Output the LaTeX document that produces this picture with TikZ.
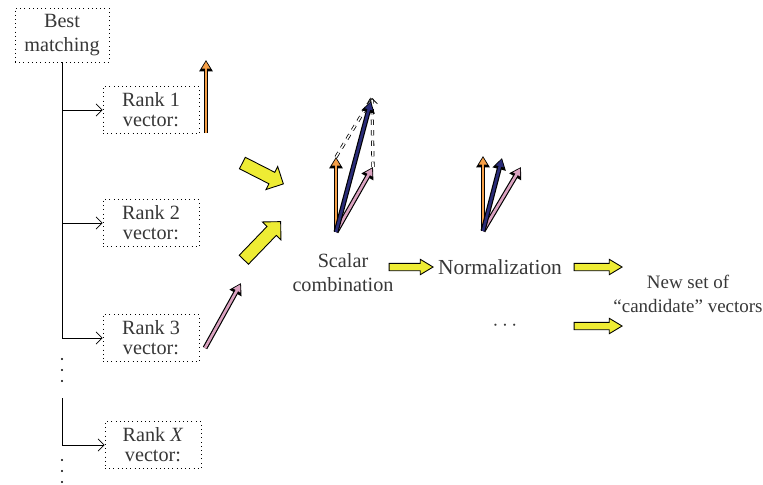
\documentclass[tikz,border=0pt]{standalone}
\usepackage{fontspec}
\setmainfont{Liberation Serif}
\usetikzlibrary{arrows.meta,shapes.arrows,positioning}

\definecolor{txtgray}{RGB}{55,55,55}
\definecolor{vecorange}{RGB}{246,160,72}
\definecolor{vecnavy}{RGB}{42,44,120}
\definecolor{vecpink}{RGB}{218,162,192}
\definecolor{blockyellow}{RGB}{238,236,52}

\tikzset{
  rankbox/.style={draw=black, dotted, align=center, inner sep=1pt,
    minimum width=1.92cm, minimum height=0.94cm,
    font=\fontsize{11.5}{11.5}\selectfont},
  branch/.style={-{Straight Barb[length=3.5pt,width=7pt]}},
  vec/.style={draw=#1, line width=1.5pt, shorten >=0.9pt,
    -{Triangle[length=4pt,width=4.4pt]},
    preaction={draw=black, line width=2.8pt, shorten >=0pt,
      -{Triangle[length=6.5pt,width=7.4pt]}}},
  block/.style={single arrow, draw=black, fill=blockyellow, line width=0.5pt,
    inner xsep=0pt, inner ysep=0.065cm, single arrow head extend=0.08cm,
    single arrow tip angle=62, single arrow head indent=0pt},
  bigblock/.style={block, inner ysep=0.12cm, single arrow head extend=0.13cm,
    single arrow tip angle=90},
  hint/.style={draw=black, dashed, line width=0.45pt, double=white,
    double distance=0.9pt}
}

\begin{document}
\begin{tikzpicture}[x=0.02cm, y=-0.02cm, text=txtgray,
    font=\fontsize{11.5}{13.6}\selectfont]
  \useasboundingbox (0,0) rectangle (763,484);

  % Ranking
  \node[rankbox, minimum width=1.88cm, minimum height=1.08cm,
    font=\fontsize{11.5}{13.6}\selectfont] (best) at (62,35) {Best\\matching};
  \node[rankbox] (rank1) at (151,110) {Rank 1\\vector:};
  \node[rankbox] (rank2) at (151,223) {Rank 2\\vector:};
  \node[rankbox] (rank3) at (151,338) {Rank 3\\vector:};
  \node[rankbox] (rankX) at (153,445) {Rank \textit{X}\\vector:};

  \draw[branch] (best.south) |- (rank3.west);
  \foreach \r in {rank1,rank2}
    \draw[branch] (best.south |- \r.west) -- (\r.west);
  \coordinate (gap) at (62,398);
  \draw[branch] (gap) |- (rankX.west);
  \foreach \y in {359,370,381,460,471,482}
    \fill[black] (62,\y) circle [radius=1.1];

  % Input vectors
  \coordinate (r1a) at (206,133);
  \coordinate (r1b) at (206,60);
  \coordinate (r3a) at (205,348);
  \coordinate (r3b) at (241,283);
  \draw[vec=vecorange] (r1a) -- (r1b);
  \draw[vec=vecpink] (r3a) -- (r3b);

  \node[bigblock, minimum height=0.92cm, rotate=-27] (in1) at (260,172) {};
  \node[bigblock, minimum height=1.06cm, rotate=46] (in3) at (260,243) {};

  % Combination
  \coordinate (o) at (336,232);
  \coordinate (ca) at (336,157);
  \coordinate (cb) at (371,101);
  \coordinate (cc) at (373,167);
  \coordinate (ctop) at (372,98);
  \draw[hint] (ca) -- (ctop);
  \draw[hint, -{Straight Barb[length=3pt,width=6pt]}] (cc) -- (ctop);
  \draw[vec=vecorange] (o) -- (ca);
  \draw[vec=vecpink] (o) -- (cc);
  \draw[vec=vecnavy] (o) -- (cb);

  \node[align=center] (scalar) at (343,273) {Scalar\\combination};
  \node[block, minimum height=0.88cm] (toNorm) at (408,267) {};
  \node[font=\fontsize{12.2}{14}\selectfont] (norm) at (500,267) {Normalization};

  % Normalized vectors
  \coordinate (n) at (483,231);
  \coordinate (na) at (483,156);
  \coordinate (nb) at (502,158);
  \coordinate (nc) at (521,167);
  \draw[vec=vecorange] (n) -- (na);
  \draw[vec=vecpink] (n) -- (nc);
  \draw[vec=vecnavy] (n) -- (nb);

  % Output
  \node[block, minimum height=0.96cm] (out1) at (595,267) {};
  \node (more) at (505,326) {$\cdots$};
  \node[block, minimum height=0.96cm] (out2) at (595,326) {};
  \node[align=center, font=\fontsize{10.8}{13.4}\selectfont] (cand) at (688,294)
    {New set of\\``candidate'' vectors};
\end{tikzpicture}
\end{document}
